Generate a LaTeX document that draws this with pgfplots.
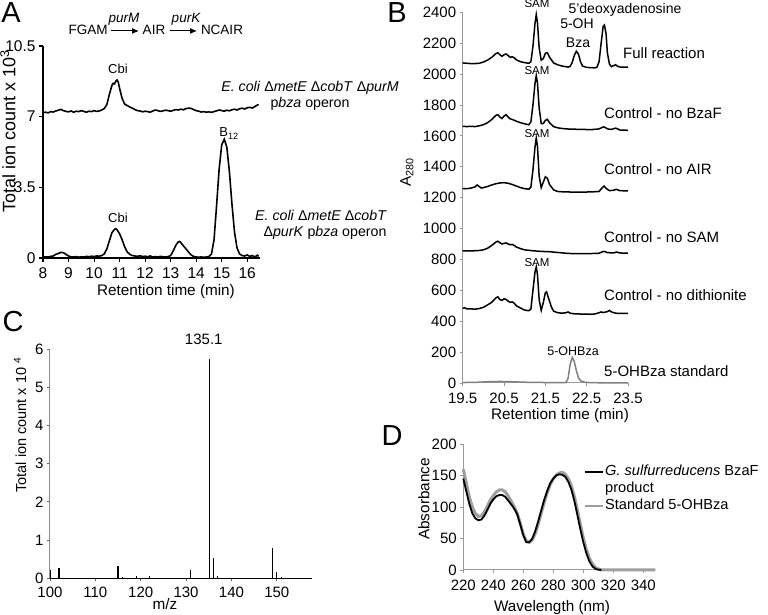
\documentclass[border=0pt]{standalone}
\usepackage{fontspec}
\setmainfont{Liberation Sans}
\usepackage{pgfplots}
\pgfplotsset{compat=1.18}
\usetikzlibrary{arrows.meta}

\newcommand{\fsz}[1]{\fontsize{#1}{#1}\selectfont}

\pgfplotsset{
  panel/.style={
    scale only axis, anchor=south west,
    axis lines*=left, enlargelimits=false, clip=false,
    tick align=outside, major tick length=4pt,
    /pgf/number format/assume math mode=true,
    /pgf/number format/1000 sep={},
    scaled ticks=false,
    tick label style={font=\fsz{15}},
  },
}

\begin{document}
\begin{tikzpicture}[x=1pt,y=1pt]
\path[use as bounding box] (0,0) rectangle (768,615);

% ---------------- A ----------------
\begin{axis}[panel, at={(43pt,357pt)}, width=217pt, height=212pt,
  xmin=8, xmax=16.5, ymin=0, ymax=10.5,
  xtick={8,...,16}, ytick={0,3.5,7,10.5},
  axis line style={black, line width=1.3pt},
  every tick/.style={black, line width=1.1pt},
  tick label style={font=\fsz{15.5}},
  xticklabel style={yshift=-2pt},
]
\addplot[black, line width=1.6pt] coordinates {
(8.0,7.20) (8.1,7.22) (8.2,7.19) (8.3,7.25) (8.4,7.23) (8.5,7.28) (8.6,7.32)
(8.7,7.36) (8.8,7.30) (8.9,7.26) (9.0,7.24) (9.1,7.28) (9.2,7.22) (9.3,7.27)
(9.4,7.25) (9.5,7.30) (9.6,7.26) (9.7,7.22) (9.8,7.27) (9.9,7.25) (10.0,7.30)
(10.1,7.26) (10.2,7.28) (10.3,7.33) (10.4,7.40) (10.5,7.60) (10.6,8.10)
(10.7,8.55) (10.75,8.65) (10.8,8.62) (10.85,8.75) (10.9,8.82) (10.95,8.70)
(11.0,8.40) (11.1,7.90) (11.2,7.62) (11.3,7.55) (11.4,7.48) (11.5,7.42)
(11.6,7.35) (11.7,7.30) (11.8,7.28) (11.9,7.24) (12.0,7.27) (12.1,7.25)
(12.2,7.22) (12.3,7.28) (12.4,7.33) (12.5,7.30) (12.6,7.26) (12.7,7.29)
(12.8,7.32) (12.9,7.30) (13.0,7.27) (13.1,7.31) (13.2,7.35) (13.3,7.33)
(13.4,7.37) (13.5,7.34) (13.6,7.40) (13.7,7.42) (13.8,7.41) (13.9,7.35)
(14.0,7.30) (14.1,7.27) (14.2,7.23) (14.3,7.25) (14.4,7.22) (14.5,7.24)
(14.6,7.21) (14.7,7.25) (14.8,7.29) (14.9,7.33) (15.0,7.30) (15.1,7.27)
(15.2,7.32) (15.3,7.29) (15.4,7.34) (15.5,7.37) (15.6,7.33) (15.7,7.39)
(15.8,7.42) (15.9,7.38) (16.0,7.44) (16.1,7.46) (16.2,7.43) (16.3,7.50)
(16.4,7.58) (16.45,7.60)
};
\addplot[black, line width=1.6pt] coordinates {
(8.0,0.05) (8.1,0.06) (8.2,0.05) (8.3,0.08) (8.4,0.10) (8.5,0.18) (8.6,0.22)
(8.7,0.28) (8.8,0.26) (8.9,0.18) (9.0,0.10) (9.1,0.06) (9.2,0.05) (9.3,0.07)
(9.4,0.04) (9.5,0.06) (9.6,0.05) (9.7,0.08) (9.8,0.06) (9.9,0.09) (10.0,0.07)
(10.1,0.10) (10.2,0.09) (10.3,0.12) (10.4,0.20) (10.5,0.45) (10.6,0.85)
(10.7,1.25) (10.8,1.42) (10.85,1.45) (10.9,1.40) (11.0,1.20) (11.1,0.90)
(11.2,0.55) (11.3,0.30) (11.4,0.18) (11.5,0.12) (11.6,0.10) (11.7,0.08)
(11.8,0.11) (11.9,0.07) (12.0,0.09) (12.1,0.06) (12.2,0.10) (12.3,0.05)
(12.4,0.07) (12.5,0.05) (12.6,0.08) (12.7,0.06) (12.8,0.05) (12.9,0.07)
(13.0,0.12) (13.1,0.35) (13.2,0.62) (13.3,0.80) (13.35,0.82) (13.4,0.76)
(13.5,0.60) (13.6,0.45) (13.7,0.30) (13.8,0.15) (13.9,0.08) (14.0,0.05)
(14.1,0.04) (14.2,0.05) (14.3,0.04) (14.4,0.05) (14.5,0.07) (14.6,0.20)
(14.7,0.90) (14.8,2.60) (14.9,4.40) (15.0,5.60) (15.1,5.88) (15.2,5.50)
(15.3,4.30) (15.4,2.70) (15.5,1.30) (15.6,0.50) (15.7,0.20) (15.8,0.12)
(15.9,0.10) (16.0,0.15) (16.1,0.08) (16.2,0.12) (16.3,0.05) (16.4,0.14)
(16.45,0.08)
};
\end{axis}

% ---------------- B ----------------
\begin{axis}[panel, at={(462.7pt,232pt)}, width=165.3pt, height=370.7pt,
  xmin=19.5, xmax=23.5, ymin=0, ymax=2400,
  xtick={19.5,20.5,21.5,22.5,23.5}, ytick={0,200,...,2400},
  axis line style={black!40, line width=1pt},
  every tick/.style={black!40, line width=0.8pt},
  major tick length=3pt,
  xticklabel style={yshift=-3pt},
]
% full reaction
\addplot[black, line width=1.5pt] coordinates {
(19.50,2072) (19.60,2070) (19.70,2068) (19.80,2068) (19.90,2070) (20.00,2078)
(20.10,2090) (20.20,2108) (20.30,2132) (20.35,2138) (20.40,2125) (20.45,2115)
(20.50,2125) (20.55,2130) (20.60,2120) (20.65,2108) (20.70,2112) (20.75,2105)
(20.80,2092) (20.90,2080) (21.00,2074) (21.10,2070) (21.15,2080) (21.20,2180)
(21.25,2330) (21.28,2385) (21.31,2330) (21.35,2170) (21.40,2090) (21.45,2100)
(21.50,2135) (21.55,2138) (21.60,2110) (21.70,2072) (21.80,2060) (21.90,2052)
(22.00,2048) (22.05,2045) (22.10,2050) (22.15,2075) (22.20,2120) (22.25,2148)
(22.30,2130) (22.35,2080) (22.40,2052) (22.50,2043) (22.60,2042) (22.70,2040)
(22.75,2045) (22.80,2080) (22.85,2200) (22.90,2310) (22.93,2318) (22.97,2260)
(23.00,2140) (23.05,2065) (23.10,2048) (23.15,2055) (23.20,2060) (23.25,2050)
(23.30,2046) (23.40,2045) (23.50,2045)
};
% no BzaF
\addplot[black, line width=1.5pt] coordinates {
(19.50,1662) (19.60,1660) (19.70,1662) (19.80,1660) (19.90,1665) (20.00,1672)
(20.10,1685) (20.20,1705) (20.30,1732) (20.35,1737) (20.40,1722) (20.45,1712)
(20.50,1728) (20.55,1737) (20.60,1722) (20.65,1710) (20.70,1706) (20.80,1695)
(20.90,1685) (21.00,1678) (21.10,1672) (21.15,1690) (21.20,1800) (21.25,1940)
(21.28,1990) (21.31,1940) (21.35,1780) (21.40,1680) (21.45,1680) (21.50,1700)
(21.55,1707) (21.60,1685) (21.70,1660) (21.80,1652) (21.90,1648) (22.00,1645)
(22.20,1643) (22.40,1642) (22.60,1640) (22.80,1645) (22.90,1658) (22.95,1655)
(23.00,1645) (23.10,1642) (23.20,1650) (23.25,1645) (23.30,1638) (23.50,1636)
};
% no AIR
\addplot[black, line width=1.5pt] coordinates {
(19.50,1259) (19.60,1258) (19.70,1262) (19.80,1270) (19.85,1282) (19.90,1272)
(19.95,1262) (20.00,1265) (20.10,1272) (20.20,1282) (20.30,1290) (20.40,1295)
(20.50,1297) (20.60,1293) (20.70,1285) (20.80,1275) (20.90,1265) (21.00,1258)
(21.10,1255) (21.15,1268) (21.20,1380) (21.25,1530) (21.28,1585) (21.31,1530)
(21.35,1340) (21.40,1265) (21.45,1300) (21.50,1335) (21.55,1325) (21.60,1285)
(21.70,1250) (21.80,1240) (21.90,1238) (22.00,1237) (22.20,1236) (22.40,1236)
(22.60,1237) (22.80,1240) (22.87,1262) (22.92,1275) (22.97,1260) (23.05,1245)
(23.15,1248) (23.22,1254) (23.30,1245) (23.50,1244)
};
% no SAM
\addplot[black, line width=1.5pt] coordinates {
(19.50,856) (19.70,855) (19.90,858) (20.00,862) (20.10,872) (20.20,890)
(20.30,912) (20.35,918) (20.40,908) (20.45,900) (20.50,904) (20.55,907)
(20.60,900) (20.65,895) (20.70,897) (20.75,890) (20.80,880) (20.90,870)
(21.00,862) (21.20,856) (21.40,852) (21.60,850) (21.80,845) (22.00,840)
(22.20,837) (22.40,838) (22.60,838) (22.80,840) (22.90,852) (22.95,850)
(23.00,844) (23.15,842) (23.22,848) (23.30,842) (23.50,840)
};
% no dithionite
\addplot[black, line width=1.5pt] coordinates {
(19.50,483) (19.55,487) (19.60,480) (19.70,480) (19.80,478) (19.90,482)
(20.00,490) (20.10,505) (20.20,522) (20.30,550) (20.35,558) (20.40,540)
(20.45,535) (20.50,545) (20.55,541) (20.60,530) (20.65,522) (20.70,525)
(20.75,515) (20.80,500) (20.90,485) (21.00,472) (21.10,468) (21.15,478)
(21.20,600) (21.25,720) (21.28,752) (21.31,700) (21.35,540) (21.40,470)
(21.45,520) (21.50,585) (21.53,590) (21.57,555) (21.65,490) (21.70,465)
(21.80,455) (21.90,452) (22.00,455) (22.05,460) (22.10,452) (22.20,448)
(22.40,446) (22.60,445) (22.70,447) (22.80,455) (22.85,460) (22.90,456)
(23.00,462) (23.05,470) (23.10,460) (23.20,452) (23.30,450) (23.50,450)
};
% 5-OHBza standard
\addplot[black!50, line width=1.5pt] coordinates {
(19.50,3) (19.80,4) (20.10,8) (20.40,10) (20.70,8) (21.00,5) (21.50,3)
(21.95,2) (22.00,4) (22.05,30) (22.10,120) (22.15,165) (22.20,140)
(22.25,80) (22.30,35) (22.35,15) (22.45,5) (22.60,2) (23.00,1) (23.50,1)
};
\end{axis}

% ---------------- C ----------------
\begin{axis}[panel, at={(50pt,36.7pt)}, width=261.7pt, height=229.3pt,
  xmin=100, xmax=157.7, ymin=0, ymax=6,
  xtick={100,110,...,150}, ytick={0,...,6},
  axis line style={black!45, line width=1pt},
  x axis line style={black, line width=1.3pt},
  every tick/.style={black!60, line width=0.8pt},
  major tick length=3pt,
  xticklabel style={yshift=-2pt},
]
\addplot[ycomb, black, line width=1.3pt, mark=none] coordinates {
(100.1,0.22) (102,0.28) (104,0.02) (110,0.02) (115,0.33) (116,0.04)
(119,0.05) (122,0.05) (125,0.02) (131,0.22) (135.1,5.74) (136.1,0.54)
(137,0.06) (149,0.78) (150,0.17) (151,0.04)
};
\node[font=\fsz{15}] at (axis cs:133.9,6.24) {135.1};
\end{axis}

% ---------------- D ----------------
\begin{axis}[panel, at={(463.3pt,45pt)}, width=192pt, height=126pt,
  xmin=220, xmax=348, ymin=0, ymax=200,
  xtick={220,240,...,340}, ytick={0,50,...,200},
  axis line style={black!40, line width=1pt},
  every tick/.style={black!40, line width=0.8pt},
  major tick length=3pt,
  xticklabel style={yshift=-3pt},
  legend cell align=left,
  legend style={at={(axis description cs:0.626,0.85)}, anchor=north west,
    draw=none, fill=none, inner sep=0pt, row sep=0pt,
    font=\fsz{14.6},
    nodes={inner sep=1.5pt, text height=10.5pt, text depth=3.5pt}},
  legend image code/.code={\draw[#1] (0pt,0pt) -- (18pt,0pt);},
]
\addlegendimage{black, line width=2pt}
\addlegendentry{\textit{G. sulfurreducens} BzaF}
\addlegendimage{empty legend}
\addlegendentry{product}
\addlegendimage{black!38, line width=2pt}
\addlegendentry{Standard 5-OHBza}
\addplot[black!38, line width=3pt, forget plot] coordinates {
(220,160) (222,138) (224,116) (226,100) (228,90) (230,85) (232,86) (234,92)
(236,101) (238,111) (240,118) (242,124) (244,127) (246,127) (248,124)
(250,117) (252,109) (254,100) (256,90) (258,74) (260,57) (262,46) (264,44)
(266,48) (268,58) (270,73) (272,91) (274,108) (276,123) (278,136) (280,145)
(282,151) (284,154) (286,155) (288,152) (290,145) (292,134) (294,117)
(296,96) (298,73) (300,51) (302,33) (304,19) (306,10) (308,4) (310,1.5)
(312,0.3) (314,0) (348,0)
};
\addplot[black, line width=1.8pt, forget plot] coordinates {
(220,145) (222,125) (224,105) (226,90) (228,82) (230,79) (232,80) (234,86)
(236,95) (238,105) (240,112) (242,117) (244,119) (246,119) (248,116)
(250,110) (252,104) (254,97) (256,88) (258,72) (260,55) (262,44) (264,44)
(266,50) (268,62) (270,78) (272,95) (274,112) (276,126) (278,138) (280,145)
(282,150) (284,152) (286,151) (288,148) (290,140) (292,128) (294,110)
(296,88) (298,65) (300,44) (302,27) (304,14) (306,6) (308,2) (310,0.5)
(312,0)
};
\end{axis}

% ---------------- axis titles ----------------
\begin{scope}[every node/.style={font=\fsz{15.3}, inner sep=0pt}]
\node at (166,323) {Retention time (min)};
\node[rotate=90, font=\fsz{18}] at (8,484) {Total ion count x 10\textsuperscript{3}};
\node at (560,199) {Retention time (min)};
\node[rotate=90] at (407,443) {A\textsubscript{280}};
\node at (165,11) {m/z};
\node[rotate=90, font=\fsz{14.5}] at (20,190) {Total ion count x 10 \textsuperscript{4}};
\node at (552,7) {Wavelength (nm)};
\node[rotate=90] at (424,116) {Absorbance};
\end{scope}

% ---------------- annotations ----------------
\node[font=\fsz{29}] at (11,602) {A};
\node[font=\fsz{29}] at (397,602) {B};
\node[font=\fsz{29}] at (13,293) {C};
\node[font=\fsz{29}] at (392,179) {D};

\begin{scope}[every node/.style={anchor=base, font=\fsz{13.5}, inner sep=0pt}]
\node at (88,580) {FGAM};
\node[font=\itshape\fsz{13.5}] at (124,592) {purM};
\node at (154,580) {AIR};
\node[font=\itshape\fsz{13.5}] at (186,592) {purK};
\node at (222,580) {NCAIR};
\end{scope}
\draw[-{Latex[length=7pt,width=6pt]}, line width=1pt] (111,584) -- (139,584);
\draw[-{Latex[length=7pt,width=6pt]}, line width=1pt] (170,584) -- (197,584);

\begin{scope}[every node/.style={anchor=base, font=\fsz{13}, inner sep=0pt}]
\node at (118,541) {Cbi};
\node at (118,392) {Cbi};
\node at (229,478) {B\textsubscript{12}};
\end{scope}
\begin{scope}[every node/.style={anchor=base, font=\fsz{14.2}, inner sep=0pt}]
\node at (310,523) {\textit{E. coli} Δ\textit{metE} Δ\textit{cobT} Δ\textit{purM}};
\node at (310,507) {p\textit{bza} operon};
\node at (321,394) {\textit{E. coli} Δ\textit{metE} Δ\textit{cobT}};
\node at (325,378) {Δ\textit{purK} p\textit{bza} operon};
\end{scope}

\begin{scope}[every node/.style={anchor=base, font=\fsz{11.5}, inner sep=0pt}]
\node at (537,607) {SAM};
\node at (537,540) {SAM};
\node at (537,477) {SAM};
\node at (537,348) {SAM};
\end{scope}
\begin{scope}[every node/.style={anchor=base, font=\fsz{14}, inner sep=0pt}]
\node at (625,601) {5'deoxyadenosine};
\node at (577,586) {5-OH};
\node at (578,567) {Bza};
\node[font=\fsz{12.5}] at (573,259) {5-OHBza};
\end{scope}
\begin{scope}[every node/.style={anchor=base west, font=\fsz{15}, inner sep=0pt}]
\node at (623,556) {Full reaction};
\node at (604,496) {Control - no BzaF};
\node at (604,440) {Control - no AIR};
\node at (604,372) {Control - no SAM};
\node at (604,314) {Control - no dithionite};
\node at (604,238) {5-OHBza standard};
\end{scope}
\end{tikzpicture}
\end{document}
